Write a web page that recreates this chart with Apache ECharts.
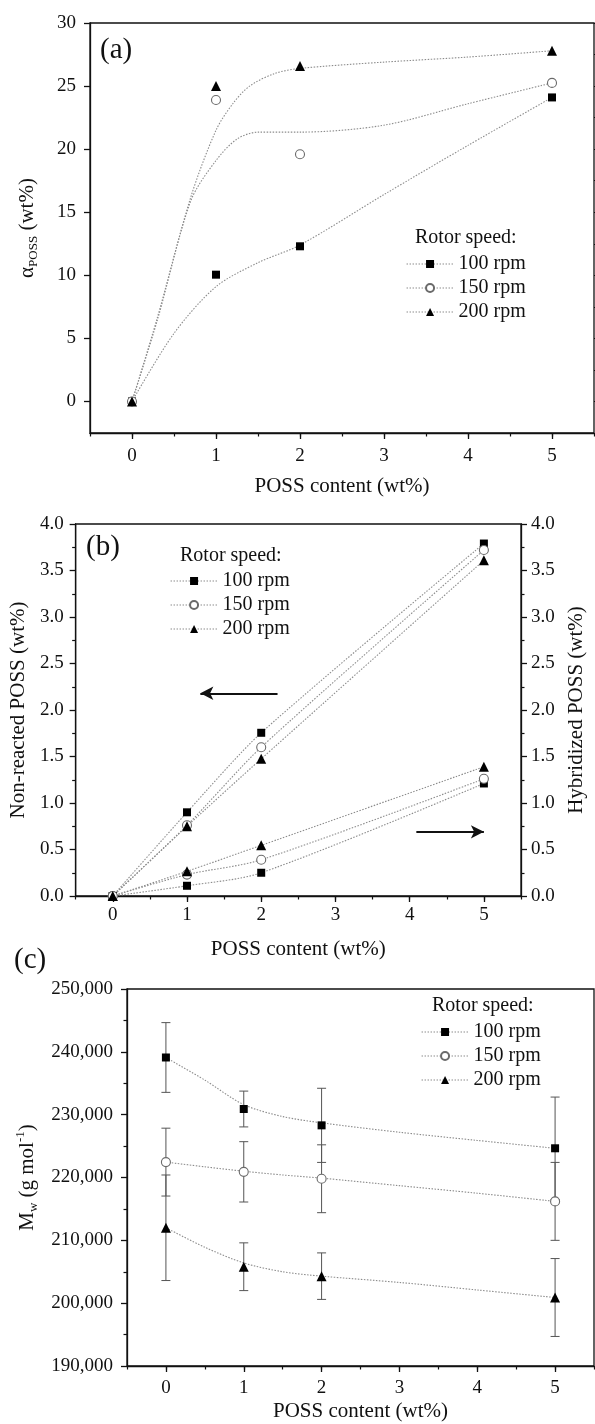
<!DOCTYPE html>
<html>
<head>
<meta charset="utf-8">
<script src="https://cdn.jsdelivr.net/npm/echarts@6/dist/echarts.min.js"></script>
<style>
  html, body { margin: 0; padding: 0; background: #fff; }
  #chart { width: 595px; height: 1424px; }
</style>
</head>
<body>
<div id="chart"></div>
<script>
// shared x positions (POSS content, wt%)
const xs = [0, 1, 2, 5];
const xTicks = [0, 1, 2, 3, 4, 5];
const speeds = ["100 rpm", "150 rpm", "200 rpm"];

// (a) alpha_POSS (wt%)
const alpha100 = [0, 10.05, 12.3, 24.1];
const alpha150 = [0, 23.9, 19.6, 25.25];
const alpha200 = [0, 25.0, 26.6, 27.8];
const yTicksA = [0, 5, 10, 15, 20, 25, 30];
// fitted curves
const fitXA100 = [0, 0.5, 1, 1.5, 2, 3, 4, 5];
const fitA100 = [0, 5.4, 9.1, 11.0, 12.4, 16.4, 20.3, 24.1];
const fitXA150 = [0, 0.3, 0.7, 1, 1.25, 1.5, 2, 3, 4, 5];
const fitA150 = [0, 6.4, 15.9, 19.1, 20.8, 21.35, 21.35, 21.9, 23.6, 25.25];
const fitXA200 = [0, 0.3, 0.7, 1, 1.2, 1.4, 1.7, 2, 3, 4, 5];
const fitA200 = [0, 6.6, 16.2, 21.5, 23.6, 25.0, 26.0, 26.4, 26.9, 27.3, 27.8];

// (b) non-reacted POSS (left axis) and hybridized POSS (right axis)
const nonReacted100 = [0, 0.9, 1.755, 3.79];
const nonReacted150 = [0, 0.76, 1.6, 3.72];
const nonReacted200 = [0, 0.75, 1.475, 3.61];
const hybrid100 = [0, 0.11, 0.25, 1.21];
const hybrid150 = [0, 0.23, 0.39, 1.26];
const hybrid200 = [0, 0.265, 0.545, 1.39];
const arrowLeft = [[2.22, 2.18], [1.18, 2.18]];
const arrowRight = [[4.09, 0.69], [5.0, 0.69]];

// (c) Mw (g/mol) with error bars
const mw100 = [239100, 230900, 228300, 224650];
const mw150 = [222450, 220900, 219800, 216200];
const mw200 = [212000, 205800, 204300, 200900];
const err100 = [5550, 2850, 5900, 8150];
const err150 = [5400, 4800, 5400, 6200];
const err200 = [8400, 3800, 3700, 6200];
const fitXC = [0, 0.5, 1, 1.5, 2, 3, 4, 5];
const fitC100 = [239100, 235500, 231600, 229700, 228700, 227200, 225900, 224650];
const fitC150 = [222450, 221700, 221000, 220400, 219900, 218700, 217500, 216200];
const fitC200 = [212000, 208900, 206400, 205000, 204300, 203300, 202100, 200900];

const FONT = '"Liberation Serif", "Times New Roman", serif';
const INK = "#111";
const DOT = "#8c8c8c";
const tickText = { color: INK, fontFamily: FONT, fontSize: 19 };
const nameText = { color: INK, fontFamily: FONT, fontSize: 21 };

const markers = [
  { symbol: "rect", symbolSize: 8, itemStyle: { color: "#000" } },
  { symbol: "circle", symbolSize: 9, itemStyle: { color: "#fff", borderColor: "#6a6a6a", borderWidth: 1.1 } },
  { symbol: "triangle", symbolSize: 10, itemStyle: { color: "#000" } },
];
const dotted = { color: DOT, width: 1.1, type: [1.5, 1.5] };

const pairs = (xv, yv) => xv.map((x, i) => [x, yv[i]]);

const xMajor = (g, margin, nameGap) => ({
  gridIndex: g, type: "value", position: "bottom", min: -0.5, max: 5.5,
  axisLine: { onZero: false, lineStyle: { color: INK, width: 1.3 } },
  axisTick: { customValues: xTicks, length: 6, lineStyle: { color: INK, width: 1.3 } },
  axisLabel: { customValues: xTicks, margin, ...tickText },
  splitLine: { show: false },
  name: "POSS content (wt%)", nameLocation: "middle", nameGap, nameTextStyle: nameText,
});
const xMinor = (g) => ({
  gridIndex: g, type: "value", position: "bottom", min: -0.5, max: 5.5, interval: 0.5,
  axisLine: { show: false, onZero: false },
  axisTick: { length: 3.5, lineStyle: { color: INK, width: 1.2 } },
  axisLabel: { show: false }, splitLine: { show: false },
});

const errorBars = (vals, errs) => ({
  type: "custom", coordinateSystem: "cartesian2d", xAxisIndex: 4, yAxisIndex: 4, z: 1, silent: true,
  data: xs.map((x, i) => [x, vals[i] - errs[i], vals[i] + errs[i]]),
  encode: { x: 0, y: [1, 2] },
  renderItem: (params, api) => {
    const top = api.coord([api.value(0), api.value(2)]);
    const bot = api.coord([api.value(0), api.value(1)]);
    const w = 4.5;
    const st = { stroke: "#555", lineWidth: 1 };
    return {
      type: "group",
      children: [
        { type: "line", shape: { x1: top[0], y1: top[1], x2: bot[0], y2: bot[1] }, style: st },
        { type: "line", shape: { x1: top[0] - w, y1: top[1], x2: top[0] + w, y2: top[1] }, style: st },
        { type: "line", shape: { x1: bot[0] - w, y1: bot[1], x2: bot[0] + w, y2: bot[1] }, style: st },
      ],
    };
  },
});

const arrowMark = (pts) => ({
  silent: true, symbol: ["none", "arrow"], symbolSize: [10, 13],
  lineStyle: { color: INK, width: 2, type: "solid" },
  label: { show: false },
  data: [[{ coord: pts[0] }, { coord: pts[1] }]],
});

const series = [];
// (a)
[alpha100, alpha150, alpha200].forEach((v, k) => {
  series.push({
    name: speeds[k], type: "line", xAxisIndex: 0, yAxisIndex: 0, z: 3,
    data: pairs(xs, v), lineStyle: { opacity: 0 }, ...markers[k],
  });
});
[[fitXA100, fitA100], [fitXA150, fitA150], [fitXA200, fitA200]].forEach(([fx, fy]) => {
  series.push({
    type: "line", xAxisIndex: 0, yAxisIndex: 0, z: 1, symbol: "none",
    smooth: 0.3, data: pairs(fx, fy), lineStyle: dotted,
  });
});
// (b)
[nonReacted100, nonReacted150, nonReacted200].forEach((v, k) => {
  const s = {
    name: speeds[k], type: "line", xAxisIndex: 2, yAxisIndex: 2, z: 3,
    smooth: 0.25, data: pairs(xs, v), lineStyle: dotted, ...markers[k],
  };
  if (k === 0) s.markLine = arrowMark(arrowLeft);
  series.push(s);
});
[hybrid100, hybrid150, hybrid200].forEach((v, k) => {
  const s = {
    name: speeds[k], type: "line", xAxisIndex: 2, yAxisIndex: 3, z: 3,
    smooth: 0.3, data: pairs(xs, v), lineStyle: dotted, ...markers[k],
  };
  if (k === 0) s.markLine = arrowMark(arrowRight);
  series.push(s);
});
// (c)
series.push(errorBars(mw100, err100), errorBars(mw150, err150), errorBars(mw200, err200));
[mw100, mw150, mw200].forEach((v, k) => {
  series.push({
    name: speeds[k], type: "line", xAxisIndex: 4, yAxisIndex: 4, z: 3,
    data: pairs(xs, v), lineStyle: { opacity: 0 }, ...markers[k],
  });
});
[fitC100, fitC150, fitC200].forEach((fy) => {
  series.push({
    type: "line", xAxisIndex: 4, yAxisIndex: 4, z: 2, symbol: "none",
    smooth: 0.3, data: pairs(fitXC, fy), lineStyle: dotted,
  });
});

const legendAt = (left, top) => ({
  orient: "vertical", left, top, padding: 0, itemGap: 0,
  itemWidth: 47, itemHeight: 10, data: speeds, selectedMode: false,
  textStyle: { color: INK, fontFamily: FONT, fontSize: 20, lineHeight: 24 },
  lineStyle: { color: DOT, width: 1.1, type: [1.5, 1.5], opacity: 1 },
});

const titleAt = (text, left, top, size) => ({
  text, left, top, padding: 0,
  textStyle: { color: INK, fontFamily: FONT, fontSize: size, fontWeight: "normal", lineHeight: size },
});

const subRich = {
  n: { fontFamily: FONT, fontSize: 21, color: INK, lineHeight: 26 },
  sub: { fontFamily: FONT, fontSize: 13, color: INK, lineHeight: 13, verticalAlign: "bottom" },
  sup: { fontFamily: FONT, fontSize: 13, color: INK, lineHeight: 13, verticalAlign: "top" },
};

const gridBox = { show: true, borderColor: INK, borderWidth: 1.3, backgroundColor: "transparent" };

const option = {
  animation: false,
  backgroundColor: "#fff",
  title: [
    titleAt("(a)", 100, 36, 29),
    titleAt("(b)", 86, 533, 29),
    titleAt("(c)", 14, 946, 29),
    titleAt("Rotor speed:", 415, 228, 20),
    titleAt("Rotor speed:", 180, 546, 20),
    titleAt("Rotor speed:", 432, 996, 20),
  ],
  legend: [legendAt(406, 252), legendAt(170, 569), legendAt(421, 1020)],
  grid: [
    { left: 90, top: 23, width: 504, height: 410, ...gridBox },
    { left: 75, top: 524, width: 462, height: 372, ...gridBox },
    { left: 127, top: 989, width: 467, height: 377, ...gridBox },
  ],
  xAxis: [xMajor(0, 14, 43), xMinor(0), xMajor(1, 10, 43), xMinor(1), xMajor(2, 13, 35), xMinor(2)],
  yAxis: [
    {
      gridIndex: 0, type: "value", min: -2.5, max: 30,
      axisLine: { onZero: false, lineStyle: { color: INK, width: 1.3 } },
      axisTick: { customValues: yTicksA, length: 6, lineStyle: { color: INK, width: 1.3 } },
      axisLabel: { customValues: yTicksA, margin: 14, ...tickText },
      splitLine: { show: false },
      name: "{n|α}{sub|POSS}{n| (wt%)}", nameLocation: "middle", nameGap: 50, nameRotate: 90,
      nameTextStyle: { rich: subRich },
    },
    {
      gridIndex: 0, type: "value", min: -2.5, max: 30, interval: 2.5,
      axisLine: { show: false, onZero: false },
      axisTick: { length: 3.5, lineStyle: { color: INK, width: 1.2 } },
      axisLabel: { show: false }, splitLine: { show: false },
    },
    {
      gridIndex: 1, type: "value", position: "left", min: 0, max: 4, interval: 0.5,
      axisLine: { onZero: false, lineStyle: { color: INK, width: 1.3 } },
      axisTick: { length: 6, lineStyle: { color: INK, width: 1.3 } },
      minorTick: { show: true, splitNumber: 2, length: 3.5, lineStyle: { color: INK, width: 1.2 } },
      axisLabel: { margin: 12, formatter: (v) => v.toFixed(1), ...tickText },
      splitLine: { show: false },
      name: "Non-reacted POSS (wt%)", nameLocation: "middle", nameGap: 41, nameRotate: 90,
      nameTextStyle: nameText,
    },
    {
      gridIndex: 1, type: "value", position: "right", min: 0, max: 4, interval: 0.5,
      axisLine: { onZero: false, lineStyle: { color: INK, width: 1.3 } },
      axisTick: { length: 6, lineStyle: { color: INK, width: 1.3 } },
      minorTick: { show: true, splitNumber: 2, length: 3.5, lineStyle: { color: INK, width: 1.2 } },
      axisLabel: { margin: 10, formatter: (v) => v.toFixed(1), ...tickText },
      splitLine: { show: false },
      name: "Hybridized POSS (wt%)", nameLocation: "middle", nameGap: 45, nameRotate: 90,
      nameTextStyle: nameText,
    },
    {
      gridIndex: 2, type: "value", min: 190000, max: 250000, interval: 10000,
      axisLine: { onZero: false, lineStyle: { color: INK, width: 1.3 } },
      axisTick: { length: 6, lineStyle: { color: INK, width: 1.3 } },
      minorTick: { show: true, splitNumber: 2, length: 3.5, lineStyle: { color: INK, width: 1.2 } },
      axisLabel: { margin: 14, formatter: (v) => v.toLocaleString("en-US"), ...tickText },
      splitLine: { show: false },
      name: "{n|M}{sub|w}{n| (g mol}{sup|-1}{n|)}", nameLocation: "middle", nameGap: 87, nameRotate: 90,
      nameTextStyle: { rich: subRich },
    },
  ],
  series,
};

const chart = echarts.init(document.getElementById("chart"), null, { renderer: "canvas" });
chart.setOption(option);
</script>
</body>
</html>
